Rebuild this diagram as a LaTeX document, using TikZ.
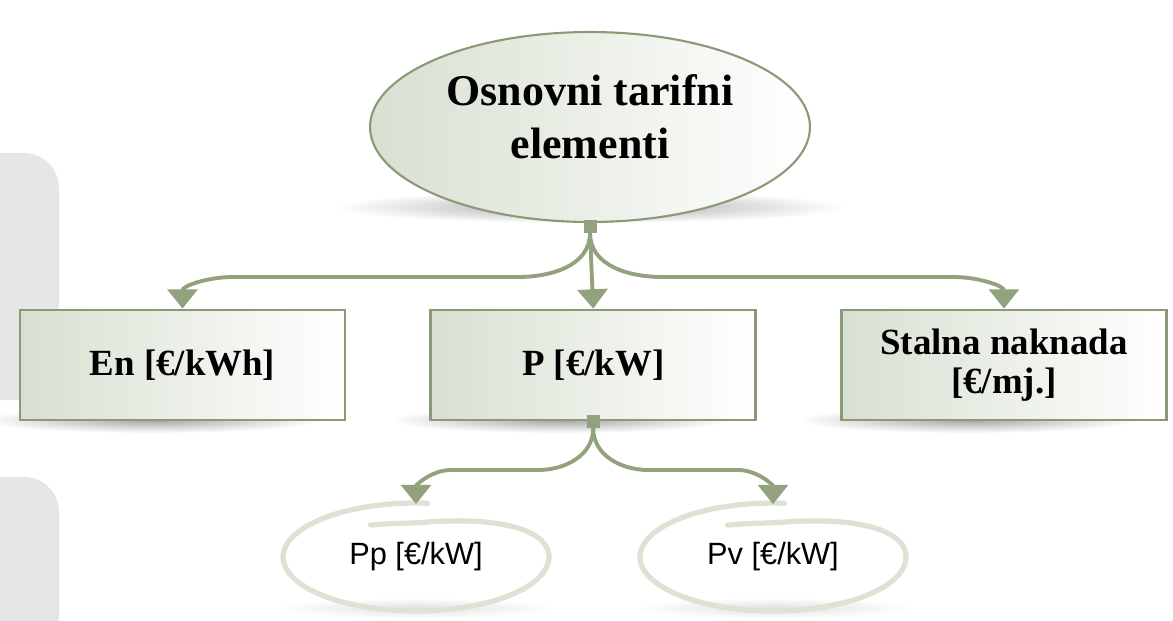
\documentclass[tikz,border=0pt]{standalone}
\usepackage{fontspec}
\setmainfont{Liberation Serif}
\newfontfamily\arialfont{Liberation Sans}
\usepackage{tikz}
\usetikzlibrary{shapes.geometric, arrows.meta, positioning, fadings}

\definecolor{sageline}{RGB}{146,161,126}
\definecolor{sageedge}{RGB}{138,154,118}
\definecolor{sagefill}{RGB}{216,224,209}
\definecolor{brushgreen}{RGB}{220,227,212}
\definecolor{panelgray}{RGB}{230,230,230}

\tikzfading[name=softshadow, inner color=transparent!0, outer color=transparent!100]

\begin{document}
\begin{tikzpicture}[
    x=0.02cm, y=-0.02cm,
    node distance=1.66cm,
    root/.style={ellipse, draw=sageedge, line width=1.2pt, left color=sagefill, right color=white, minimum width=8.8cm, minimum height=3.8cm, align=center, text depth=12pt, font=\bfseries\fontsize{25}{30}\selectfont},
    tarif/.style={rectangle, draw=sageedge, line width=1.6pt, left color=sagefill, right color=white, minimum width=6.5cm, minimum height=2.2cm, align=center, font=\bfseries\fontsize{21}{22}\selectfont},
    sub/.style={ellipse, minimum width=5.3cm, minimum height=2.1cm, font=\arialfont\fontsize{17.5}{20}\selectfont},
    hub/.style={rectangle, fill=sageline, minimum size=0.26cm, inner sep=0pt},
    link/.style={draw=sageline, line width=2.2pt, -{Triangle[width=17pt,length=11pt]}},
    brush/.style={draw=brushgreen, line width=3pt, line cap=round},
    shadowblob/.style={fill=black, opacity=0.35, path fading=softshadow}
]
\useasboundingbox (0,0) rectangle (1173,620);

% side panels
\fill[panelgray, rounded corners=0.7cm] (-40,153) rectangle (59,400);
\fill[panelgray, rounded corners=0.7cm] (-40,477) rectangle (59,680);

% shadows
\fill[shadowblob] (590,207) ellipse (255 and 16);
\foreach \sx in {152,560,968}
  \fill[shadowblob] (\sx,420) ellipse (170 and 13);
\foreach \sx in {416,773}
  \fill[shadowblob, opacity=0.12] (\sx,608) ellipse (140 and 10);

% nodes
\node[root] (root) at (590,127) {Osnovni tarifni\\elementi};
\node[tarif] (en) at (182.5,365) {En [€/kWh]};
\node[tarif, right=of en] (p) {P [€/kW]};
\node[tarif, right=of p] (fix) {Stalna naknada\\{}[€/mj.]};
\node[sub] (pp) at (416,557) {Pp [€/kW]};
\node[sub] (pv) at (773,557) {Pv [€/kW]};

\node[hub] (hubA) at ([yshift=-0.06cm]root.south) {};
\node[hub] (hubB) at (p.south) {};

% brush strokes round the lower ellipses
\foreach \e in {pp,pv}
  \draw[brush, shift={(\e.center)}] plot[smooth, domain=85:470, samples=70]
    ({133*cos(\x)}, {-(54-20*min(1,max(0,(\x-360)/90)))*sin(\x)});

% connectors
\coordinate (busA) at (0,277);
\coordinate (busB) at (0,470);

\draw[link] (hubA.south) to[out=-90,in=0] ([xshift=-1.45cm]hubA.south |- busA)
  -- ([xshift=1cm]en.north |- busA) to[out=180,in=90] (en.north);
\draw[link] (hubA.south) -- (p.north);
\draw[link] (hubA.south) to[out=-90,in=180] ([xshift=1.45cm]hubA.south |- busA)
  -- ([xshift=-1cm]fix.north |- busA) to[out=0,in=90] (fix.north);

\draw[link] (hubB.south) to[out=-90,in=0] ([xshift=-1.1cm]hubB.south |- busB)
  -- ([xshift=0.7cm]pp.north |- busB) to[out=180,in=90] (pp.north);
\draw[link] (hubB.south) to[out=-90,in=180] ([xshift=1.1cm]hubB.south |- busB)
  -- ([xshift=-0.7cm]pv.north |- busB) to[out=0,in=90] (pv.north);
\end{tikzpicture}
\end{document}
